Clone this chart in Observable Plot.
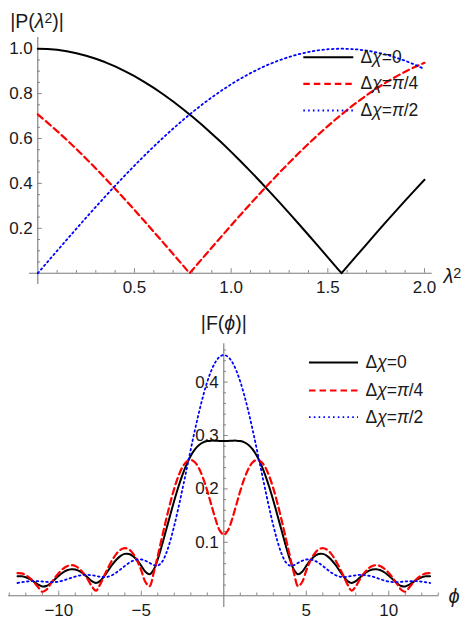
<!DOCTYPE html>
<html>
<head>
<meta charset="utf-8">
<script src="https://cdn.jsdelivr.net/npm/d3@7"></script>
<script src="https://cdn.jsdelivr.net/npm/@observablehq/plot@0.6"></script>
<style>
  html, body { margin: 0; padding: 0; background: #ffffff; }
  #chart { width: 462px; }
  #chart svg { display: block; }
</style>
</head>
<body>
<div id="chart"></div>
<script>
// ---------------- DATA ----------------
const seriesNames = ["Δχ=0", "Δχ=π/4", "Δχ=π/2"];

// Top panel: |P(λ²)|
const lambda2 = [0,0.05,0.1,0.15,0.2,0.25,0.3,0.35,0.4,0.45,0.5,0.55,0.6,0.65,0.7,0.75,0.785,
  0.8,0.85,0.9,0.95,1.0,1.05,1.1,1.15,1.2,1.25,1.3,1.35,1.4,1.45,1.5,1.55,1.571,
  1.6,1.65,1.7,1.75,1.8,1.85,1.9,1.95,2.0];
const pDx0 = [1.000,0.9988,0.9950,0.9888,0.9801,0.9689,0.9553,0.9394,0.9211,0.9004,0.8776,0.8525,0.8253,0.7961,0.7648,0.7317,0.7073,
  0.6967,0.6600,0.6216,0.5817,0.5403,0.4976,0.4536,0.4085,0.3624,0.3153,0.2675,0.2190,0.1700,0.1205,0.0707,0.0208,0.0000,
  0.0292,0.0792,0.1288,0.1782,0.2272,0.2756,0.3233,0.3702,0.4161];
const pDxPi4 = [0.7071,0.6709,0.6330,0.5936,0.5525,0.5102,0.4666,0.4218,0.3760,0.3291,0.2816,0.2332,0.1843,0.1350,0.0853,0.0354,0.0000,
  0.0146,0.0646,0.1143,0.1638,0.2130,0.2615,0.3094,0.3566,0.4028,0.4481,0.4922,0.5351,0.5766,0.6168,0.6553,0.6923,0.7071,
  0.7275,0.7609,0.7923,0.8218,0.8492,0.8746,0.8978,0.9187,0.9372];
const pDxPi2 = [0.0000,0.0500,0.0998,0.1494,0.1987,0.2474,0.2955,0.3429,0.3894,0.4350,0.4794,0.5227,0.5646,0.6052,0.6442,0.6816,0.7068,
  0.7174,0.7513,0.7833,0.8134,0.8415,0.8674,0.8912,0.9128,0.9320,0.9490,0.9636,0.9757,0.9854,0.9927,0.9975,0.9998,1.0000,
  0.9996,0.9969,0.9917,0.9840,0.9738,0.9613,0.9463,0.9290,0.9093];

// Bottom panel: |F(ϕ)|
const phi = [-12.5,-12.25,-12,-11.75,-11.5,-11.25,-11,-10.75,-10.5,-10.25,-10,-9.75,-9.5,-9.25,-9,-8.75,-8.5,-8.25,-8,-7.75,
  -7.5,-7.25,-7,-6.75,-6.5,-6.25,-6,-5.75,-5.5,-5.25,-5,-4.75,-4.5,-4.25,-4,-3.75,-3.5,-3.25,-3,-2.75,
  -2.5,-2.25,-2,-1.75,-1.5,-1.25,-1,-0.75,-0.5,-0.25,0,
  0.25,0.5,0.75,1,1.25,1.5,1.75,2,2.25,2.5,2.75,3,3.25,3.5,3.75,4,4.25,4.5,4.75,5,
  5.25,5.5,5.75,6,6.25,6.5,6.75,7,7.25,7.5,7.75,8,8.25,8.5,8.75,9,9.25,9.5,9.75,10,
  10.25,10.5,10.75,11,11.25,11.5,11.75,12,12.25,12.5];
const fDx0 = [0.0365,0.0364,0.0345,0.0309,0.0260,0.0208,0.0173,0.0181,0.0233,0.0304,0.0374,0.0434,0.0476,0.0496,0.0492,0.0462,0.0409,0.0341,0.0273,0.0238,
  0.0273,0.0364,0.0475,0.0585,0.0679,0.0747,0.0783,0.0782,0.0742,0.0664,0.0557,0.0448,0.0400,0.0486,0.0686,0.0943,0.1224,0.1508,0.1784,0.2040,
  0.2268,0.2463,0.2620,0.2739,0.2822,0.2872,0.2897,0.2904,0.2902,0.2897,0.2895,
  0.2897,0.2902,0.2904,0.2897,0.2872,0.2822,0.2739,0.2620,0.2463,0.2268,0.2040,0.1784,0.1508,0.1224,0.0943,0.0686,0.0486,0.0400,0.0448,0.0557,
  0.0664,0.0742,0.0782,0.0783,0.0747,0.0679,0.0585,0.0475,0.0364,0.0273,0.0238,0.0273,0.0341,0.0409,0.0462,0.0492,0.0496,0.0476,0.0434,0.0374,
  0.0304,0.0233,0.0181,0.0173,0.0208,0.0260,0.0309,0.0345,0.0364,0.0365];
const fDxPi4 = [0.0422,0.0417,0.0385,0.0329,0.0251,0.0159,0.0074,0.0112,0.0220,0.0329,0.0426,0.0503,0.0553,0.0572,0.0556,0.0505,0.0421,0.0308,0.0177,0.0094,
  0.0208,0.0372,0.0532,0.0675,0.0788,0.0863,0.0891,0.0867,0.0789,0.0655,0.0472,0.0257,0.0178,0.0427,0.0749,0.1087,0.1420,0.1733,0.2011,0.2240,
  0.2411,0.2513,0.2543,0.2498,0.2381,0.2197,0.1962,0.1695,0.1431,0.1223,0.1141,
  0.1223,0.1431,0.1695,0.1962,0.2197,0.2381,0.2498,0.2543,0.2513,0.2411,0.2240,0.2011,0.1733,0.1420,0.1087,0.0749,0.0427,0.0178,0.0257,0.0472,
  0.0655,0.0789,0.0867,0.0891,0.0863,0.0788,0.0675,0.0532,0.0372,0.0208,0.0094,0.0177,0.0308,0.0421,0.0505,0.0556,0.0572,0.0553,0.0503,0.0426,
  0.0329,0.0220,0.0112,0.0074,0.0159,0.0251,0.0329,0.0385,0.0417,0.0422];
const fDxPi2 = [0.0238,0.0252,0.0263,0.0272,0.0274,0.0272,0.0266,0.0259,0.0254,0.0255,0.0264,0.0283,0.0307,0.0334,0.0358,0.0377,0.0388,0.0390,0.0383,0.0370,
  0.0356,0.0349,0.0358,0.0388,0.0436,0.0495,0.0557,0.0613,0.0655,0.0678,0.0678,0.0654,0.0614,0.0573,0.0565,0.0630,0.0788,0.1023,0.1316,0.1648,
  0.2005,0.2374,0.2744,0.3103,0.3440,0.3744,0.4008,0.4221,0.4379,0.4475,0.4508,
  0.4475,0.4379,0.4221,0.4008,0.3744,0.3440,0.3103,0.2744,0.2374,0.2005,0.1648,0.1316,0.1023,0.0788,0.0630,0.0565,0.0573,0.0614,0.0654,0.0678,
  0.0678,0.0655,0.0613,0.0557,0.0495,0.0436,0.0388,0.0358,0.0349,0.0356,0.0370,0.0383,0.0390,0.0388,0.0377,0.0358,0.0334,0.0307,0.0283,0.0264,
  0.0255,0.0254,0.0259,0.0266,0.0272,0.0274,0.0272,0.0263,0.0252,0.0238];

// Tick values and labels
const topXMajor = [0.5, 1.0, 1.5, 2.0];
const topXLabels = ["0.5", "1.0", "1.5", "2.0"];
const topXMinor = [0.1,0.2,0.3,0.4,0.6,0.7,0.8,0.9,1.1,1.2,1.3,1.4,1.6,1.7,1.8,1.9];
const topYMajor = [0.2, 0.4, 0.6, 0.8, 1.0];
const topYLabels = ["0.2", "0.4", "0.6", "0.8", "1.0"];
const topYMinor = [0.05,0.1,0.15,0.25,0.3,0.35,0.45,0.5,0.55,0.65,0.7,0.75,0.85,0.9,0.95];
const botXMajor = [-10, -5, 5, 10];
const botXLabels = ["\u221210", "\u22125", "5", "10"];
const botXMinor = [-13,-12,-11,-9,-8,-7,-6,-4,-3,-2,-1,1,2,3,4,6,7,8,9,11,12,13];
const botYMajor = [0.1, 0.2, 0.3, 0.4];
const botYLabels = ["0.1", "0.2", "0.3", "0.4"];
const botYMinor = [0.02,0.04,0.06,0.08,0.12,0.14,0.16,0.18,0.22,0.24,0.26,0.28,0.32,0.34,0.36,0.38,0.42,0.44,0.46];

// ---------------- STYLE / LAYOUT ----------------
const W = 462;
const FONT = "'Liberation Sans', Arial, Helvetica, sans-serif";
const axisColor = "#7a7a7a";
const labelColor = "#1a1a1a";
const seriesStyle = [
  {stroke: "#000000", strokeWidth: 2, strokeDasharray: null},
  {stroke: "#ff0000", strokeWidth: 2.2, strokeDasharray: "6.5,4"},
  {stroke: "#0000ff", strokeWidth: 1.8, strokeDasharray: "1.6,3.2"}
];

function lin(d, r) {
  return {
    apply: v => r[0] + (v - d[0]) * (r[1] - r[0]) / (d[1] - d[0]),
    invert: p => d[0] + (p - r[0]) * (d[1] - d[0]) / (r[1] - r[0])
  };
}

function panel(cfg) {
  const sx = lin(cfg.xDomain, cfg.xRange), sy = lin(cfg.yDomain, cfg.yRange);
  const xTickTop = px => sy.invert(sy.apply(0) - px);
  const yTickEnd = px => sx.invert(sx.apply(0) + px);
  const marks = [];
  // axis lines
  marks.push(Plot.ruleY([0], {x1: cfg.xAxisExtent[0], x2: cfg.xAxisExtent[1], stroke: axisColor, strokeWidth: 1.1}));
  marks.push(Plot.ruleX([0], {y1: cfg.yAxisExtent[0], y2: cfg.yAxisExtent[1], stroke: axisColor, strokeWidth: 1.1}));
  // ticks (inward)
  marks.push(Plot.ruleX(cfg.xMinor, {x: d => d, y1: 0, y2: xTickTop(2.7), stroke: axisColor, strokeWidth: 0.9}));
  marks.push(Plot.ruleX(cfg.xMajor, {x: d => d, y1: 0, y2: xTickTop(4.5), stroke: axisColor, strokeWidth: 0.9}));
  marks.push(Plot.ruleY(cfg.yMinor, {y: d => d, x1: 0, x2: yTickEnd(2.7), stroke: axisColor, strokeWidth: 0.9}));
  marks.push(Plot.ruleY(cfg.yMajor, {y: d => d, x1: 0, x2: yTickEnd(4.5), stroke: axisColor, strokeWidth: 0.9}));
  // tick labels
  marks.push(Plot.text(cfg.xMajor, {x: d => d, y: 0, text: (d, i) => cfg.xLabels[i], dy: 14.5,
    fontSize: 17, fill: labelColor, textAnchor: "middle"}));
  marks.push(Plot.text(cfg.yMajor, {x: 0, y: d => d, text: (d, i) => cfg.yLabels[i], dx: -5,
    fontSize: 17, fill: labelColor, textAnchor: "end"}));
  // curves
  cfg.series.forEach((vals, s) => {
    const data = cfg.xs.map((x, i) => ({x, v: vals[i]}));
    marks.push(Plot.line(data, {x: "x", y: "v", curve: cfg.curve, ...seriesStyle[s]}));
  });
  // axis labels
  marks.push(Plot.text([cfg.yTitle], {x: sx.invert(cfg.yTitlePx[0]), y: sy.invert(cfg.yTitlePx[1]), text: d => d,
    fontSize: 19.5, fill: labelColor, textAnchor: "middle"}));
  marks.push(Plot.text([cfg.xTitle], {x: sx.invert(cfg.xTitlePx[0]), y: sy.invert(cfg.xTitlePx[1]), text: d => d,
    fontSize: 20, fill: labelColor, textAnchor: "start"}));
  // legend
  seriesNames.forEach((name, s) => {
    const yv = sy.invert(cfg.legendRowsPx[s]);
    marks.push(Plot.ruleY([yv], {x1: sx.invert(cfg.legendLinePx[0]), x2: sx.invert(cfg.legendLinePx[1]), ...seriesStyle[s]}));
    marks.push(Plot.text([name], {x: sx.invert(cfg.legendTextPx), y: yv, text: d => d,
      fontSize: 17.5, fill: labelColor, textAnchor: "start"}));
  });
  const svg = Plot.plot({
    width: W,
    height: cfg.height,
    x: {domain: cfg.xDomain, range: cfg.xRange},
    y: {domain: cfg.yDomain, range: cfg.yRange},
    axis: null,
    style: {background: "#ffffff", fontFamily: FONT, fontSize: "17px", overflow: "visible", color: labelColor},
    marks
  });
  // italic Greek variables and a real superscript, as in the original typesetting
  svg.querySelectorAll("text").forEach(t => {
    const leaves = t.children.length ? Array.from(t.querySelectorAll("tspan")) : [t];
    leaves.forEach(el => {
      if (el.children.length) return;
      const s = el.textContent;
      if (/[λχπϕ²]/.test(s)) {
        el.innerHTML = s
          .replace(/([λχπϕ])/g, '<tspan font-style="italic">$1</tspan>')
          .replace(/²/g, '<tspan baseline-shift="38%" font-size="72%">2</tspan>');
      }
    });
  });
  return svg;
}

const topPanel = panel({
  height: 300,
  xDomain: [0, 2], xRange: [37.3, 424],
  yDomain: [0, 1], yRange: [272.7, 48.2],
  xAxisExtent: [-0.043, 2.04], yAxisExtent: [-0.05, 1.05],
  xMajor: topXMajor, xLabels: topXLabels, xMinor: topXMinor,
  yMajor: topYMajor, yLabels: topYLabels, yMinor: topYMinor,
  xs: lambda2, series: [pDx0, pDxPi4, pDxPi2], curve: "linear",
  yTitle: "|P(λ²)|", yTitlePx: [36.5, 21],
  xTitle: "λ²", xTitlePx: [443, 276],
  legendRowsPx: [56.7, 83.3, 110], legendLinePx: [303.3, 353.3], legendTextPx: 360
});

const botPanel = panel({
  height: 319,
  xDomain: [-13, 13], xRange: [8.8, 437.8],
  yDomain: [0, 0.4], yRange: [295.2, 81.6],
  xAxisExtent: [-13.05, 13.05], yAxisExtent: [-0.022, 0.472],
  xMajor: botXMajor, xLabels: botXLabels, xMinor: botXMinor,
  yMajor: botYMajor, yLabels: botYLabels, yMinor: botYMinor,
  xs: phi, series: [fDx0, fDxPi4, fDxPi2], curve: "catmull-rom",
  yTitle: "|F(ϕ)|", yTitlePx: [223.3, 23],
  xTitle: "ϕ", xTitlePx: [448, 296],
  legendRowsPx: [62, 90, 116.7], legendLinePx: [309, 358], legendTextPx: 365
});

const chart = document.getElementById("chart");
chart.appendChild(topPanel);
chart.appendChild(botPanel);
</script>
</body>
</html>
